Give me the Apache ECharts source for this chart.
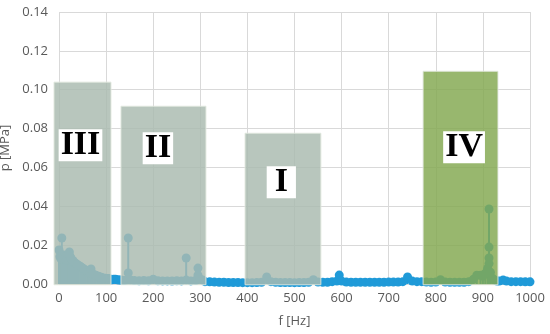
<!DOCTYPE html>
<html><head><meta charset="utf-8">
<script src="https://cdn.jsdelivr.net/npm/echarts@6/dist/echarts.min.js"></script>
<style>html,body{margin:0;padding:0;background:#fff}#c{width:550px;height:334px}</style>
</head><body><div id="c"></div>
<script>
// spectrum points (Hz, MPa)
const freq = [
  0,2,4,6,8,10,12,14,16,18,20,22,24,26,28,30,33,36,39,42,45,48,51,54,57,60,63,66,68,72,75,78,81,84,87,90,93,96,99,102,105,108,
  112,116,120,124,128,
  132,138,144,147,147,152,160,170,180,190,200,210,220,230,240,250,260,270,270,280,290,295,295,300,305,
  310,320,330,340,350,360,370,380,390,400,410,420,430,441,450,460,470,480,490,500,510,520,530,540,550,560,570,580,590,595,600,
  610,620,630,640,650,660,670,680,690,700,710,720,730,740,750,760,770,780,790,800,810,820,830,840,850,860,870,880,887,895,900,
  905,910,913,913,913,913,916,920,925,930,935,943,950,960,970,980,990,1000
];
const pres = [
  0.0175,0.014,0.013,0.0237,0.015,0.014,0.013,0.014,0.0125,0.013,0.015,0.0165,0.014,0.013,0.012,0.012,0.011,0.0105,0.010,0.0095,0.009,0.0085,0.008,0.0075,0.007,0.0065,0.006,0.0055,0.0077,0.005,0.0048,0.0045,0.004,0.004,0.0035,0.0035,0.003,0.003,0.003,0.0028,0.0028,0.0026,
  0.0022,0.0025,0.0024,0.0022,0.002,
  0.002,0.0018,0.002,0.0057,0.0237,0.002,0.0018,0.0017,0.0018,0.0017,0.0025,0.0017,0.0016,0.0016,0.0015,0.0017,0.0016,0.0134,0.002,0.0016,0.0018,0.0082,0.0046,0.0025,0.002,
  0.0012,0.0011,0.001,0.0009,0.0009,0.0008,0.0008,0.0008,0.0007,0.0007,0.0007,0.0008,0.0009,0.0036,0.0012,0.0009,0.0008,0.0008,0.0008,0.0007,0.0008,0.0008,0.0009,0.0022,0.001,0.0009,0.0009,0.0012,0.0015,0.0046,0.0015,
  0.001,0.0009,0.0009,0.0009,0.0009,0.0009,0.0009,0.0009,0.0009,0.001,0.001,0.001,0.0012,0.0036,0.0015,0.0012,0.0012,0.001,0.0009,0.001,0.0022,0.001,0.0009,0.0009,0.0009,0.0009,0.0012,0.0025,0.0045,0.0045,0.004,
  0.0055,0.008,0.0105,0.0134,0.019,0.0386,0.006,0.003,0.002,0.0015,0.0015,0.002,0.0015,0.0012,0.0012,0.0012,0.0011,0.0011
];
// shaded frequency regions
const regionNames = ['III','II','I','IV'];
const regionStart = [-10.6, 131.6, 395, 773];
const regionEnd = [110.4, 312, 556, 932];
const regionTop = [0.1039, 0.0915, 0.0776, 0.1095];
const regionBottom = [-0.0004, -0.0004, -0.0004, -0.0004];
const labelFreq = [45.6, 210, 472, 860];
const labelP = [0.0714, 0.0699, 0.0524, 0.0704];

const BLUE = '#1f9ad8';
const regionFill = ['rgba(170,187,176,0.83)','rgba(170,187,176,0.83)','rgba(170,187,176,0.83)','rgba(131,168,80,0.83)'];
const pts = freq.map((f, i) => [f, pres[i]]);

const chart = echarts.init(document.getElementById('c'), null, {renderer: 'canvas'});
chart.setOption({
  animation: false,
  backgroundColor: '#fff',
  grid: {left: 59, right: 20, top: 12, bottom: 50, containLabel: false, outerBoundsMode: 'none'},
  xAxis: {
    type: 'value', min: 0, max: 1000, interval: 100,
    name: 'f [Hz]', nameLocation: 'middle', nameGap: 31,
    nameTextStyle: {color: '#595959', fontSize: 13, fontFamily: 'Open Sans'},
    axisLine: {show: false}, axisTick: {show: false},
    axisLabel: {color: '#595959', fontSize: 13, fontFamily: 'Open Sans', margin: 8, formatter: v => String(v)},
    splitLine: {show: true, lineStyle: {color: '#d9d9d9', width: 1}}
  },
  yAxis: {
    type: 'value', min: 0, max: 0.14, interval: 0.02,
    name: 'p [MPa]', nameLocation: 'middle', nameGap: 37,
    nameTextStyle: {color: '#595959', fontSize: 13, fontFamily: 'Open Sans'},
    axisLine: {show: false}, axisTick: {show: false},
    axisLabel: {color: '#595959', fontSize: 13, fontFamily: 'Open Sans', margin: 11, formatter: v => v.toFixed(2)},
    splitLine: {show: true, lineStyle: {color: '#d9d9d9', width: 1}}
  },
  series: [
    {
      type: 'custom', z: 2, silent: true,
      data: pts, encode: {x: 0, y: 1},
      renderItem: (params, api) => {
        const a = api.coord([api.value(0), 0]);
        const b = api.coord([api.value(0), api.value(1)]);
        return {type: 'line', shape: {x1: a[0], y1: a[1], x2: b[0], y2: b[1]}, style: {stroke: BLUE, lineWidth: 2}};
      }
    },
    {
      type: 'scatter', z: 3, silent: true,
      data: pts, symbol: 'circle', symbolSize: 9,
      itemStyle: {color: BLUE, opacity: 1}
    },
    {
      type: 'custom', z: 4, silent: true, clip: false,
      data: regionNames.map((n, i) => [regionStart[i], regionEnd[i], regionBottom[i], regionTop[i], i]),
      encode: {x: [0, 1], y: [2, 3]},
      renderItem: (params, api) => {
        const p0 = api.coord([api.value(0), api.value(2)]);
        const p1 = api.coord([api.value(1), api.value(3)]);
        const i = api.value(4);
        return {type: 'rect', shape: {x: p0[0], y: p1[1], width: p1[0] - p0[0], height: p0[1] - p1[1]},
          style: {fill: regionFill[i], stroke: 'rgba(225,232,222,0.9)', lineWidth: 1}};
      }
    },
    {
      type: 'custom', z: 5, silent: true, clip: false,
      data: regionNames.map((n, i) => [labelFreq[i], labelP[i], i]),
      encode: {x: 0, y: 1},
      renderItem: (params, api) => {
        const p = api.coord([api.value(0), api.value(1)]);
        const i = api.value(2);
        const name = regionNames[i];
        return {type: 'text', x: p[0], y: p[1],
          style: {text: name, fill: '#000', font: 'bold 34px "Liberation Serif"',
            align: 'center', verticalAlign: 'middle', lineHeight: 26,
            backgroundColor: '#fff', padding: name === 'I' ? [3, 8] : [3, 2]}};
      }
    }
  ]
});
</script></body></html>
